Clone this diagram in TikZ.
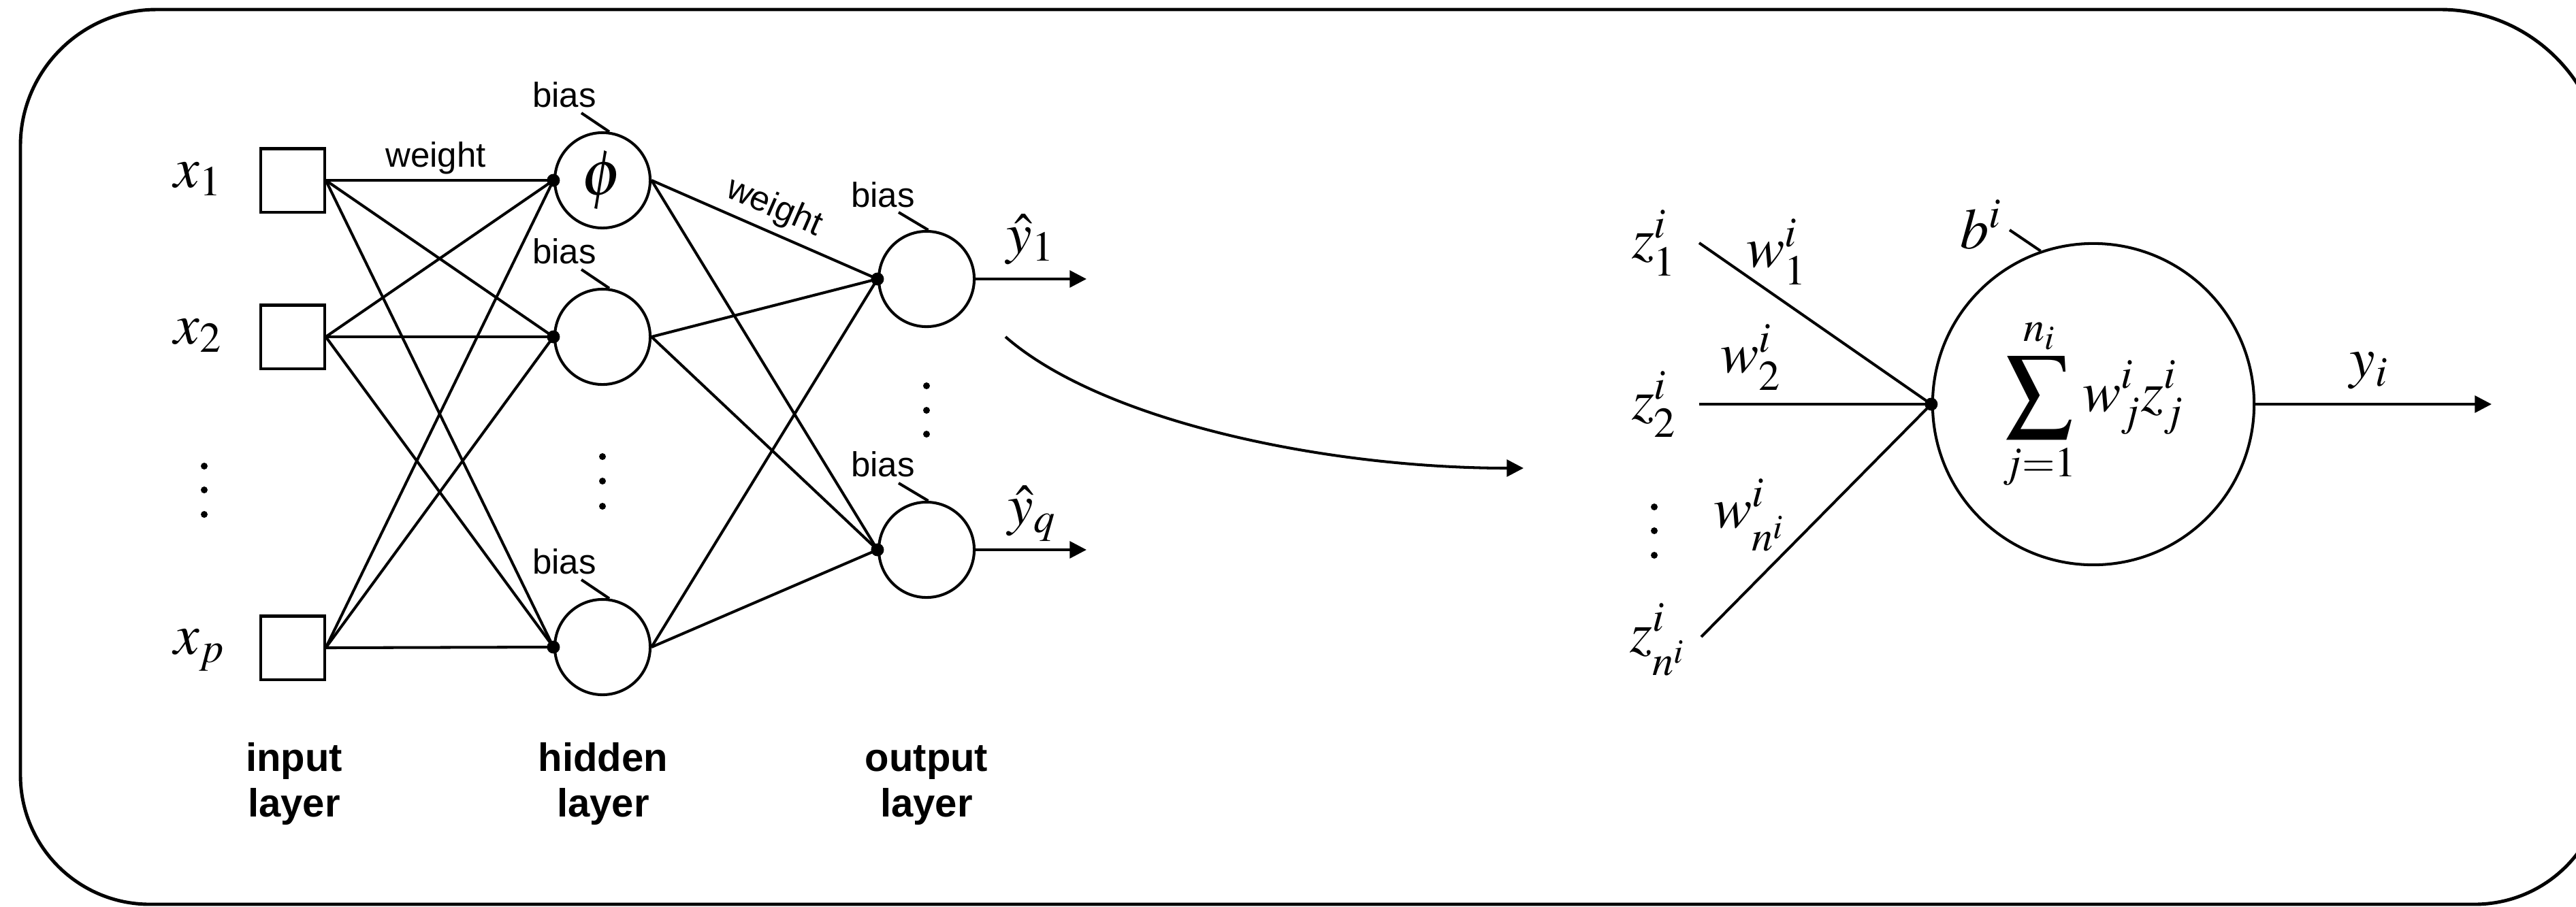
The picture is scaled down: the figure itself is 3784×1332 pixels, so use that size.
\documentclass[tikz,border=0pt]{standalone}
\usepackage{mathptmx}
\usepackage[no-math]{fontspec}
\newfontfamily\sansf{Liberation Sans}
\usetikzlibrary{arrows.meta}
% a slightly enlarged summation sign, centred on the math axis
\newcommand{\bigsum}{\mathop{\vcenter{\hbox{\scalebox{1.16}{$\displaystyle\sum$}}}}\limits}

\begin{document}
\begin{tikzpicture}[x=0.01cm, y=-0.01cm,
  ln/.style={line width=1.15pt},
  frame/.style={line width=1.4pt},
  inbox/.style={draw, ln, minimum size=0.93cm, inner sep=0pt},
  neuron/.style={draw, circle, ln, minimum size=1.40cm, inner sep=0pt,
                 font=\fontsize{27}{30}\selectfont},
  bigneuron/.style={draw, circle, ln, minimum size=4.72cm, inner sep=0pt,
                 font=\fontsize{24}{28}\selectfont},
  jdot/.style={fill, circle, inner sep=0pt, minimum size=0.19cm},
  vdot/.style={fill, circle, inner sep=0pt, minimum size=0.10cm},
  mlbl/.style={font=\fontsize{24}{28}\selectfont, inner sep=0pt},
  slbl/.style={font=\sansf\fontsize{14.5}{17}\selectfont, inner sep=0pt},
  layerlbl/.style={font=\sansf\bfseries\fontsize{16.5}{19}\selectfont,
                   align=center, inner sep=0pt, anchor=north},
  arr/.style={ln, -{Triangle[length=7pt, width=7pt]}}
]
\useasboundingbox (0,0) rectangle (3784,1332);

% outer frame with rounded corners
\draw[frame] (30,214) .. controls (30,104) and (120,14) .. (230,14)
  -- (3585,14) .. controls (3717,14) and (3825,122) .. (3825,254)
  -- (3825,1139) .. controls (3825,1244) and (3740,1329) .. (3635,1329)
  -- (220,1329) .. controls (115,1329) and (30,1244) .. (30,1139) -- cycle;

% ---------------- multilayer network ----------------
\node[inbox] (i1) at (430,265) {};
\node[inbox] (i2) at (430,495) {};
\node[inbox] (ip) at (430,952) {};

\node[neuron] (h1) at (885,265) {$\phi$};
\node[neuron] (h2) at (885,495) {};
\node[neuron] (hp) at (885,951) {};

\node[neuron] (o1) at (1361,410) {};
\node[neuron] (oq) at (1361,808) {};

% input labels
\node[mlbl, anchor=base west] (lx1) at (255,275) {$x_1$};
\node[mlbl, anchor=base west] (lx2) at (255,505) {$x_2$};
\node[mlbl, anchor=base west] (lxp) at (255,961) {$x_p$};

% input -> hidden
\foreach \a in {i1,i2,ip}{
  \foreach \b in {h1,h2,hp}{
    \draw[ln] (\a.east) -- (\b.west);
  }
}
% hidden -> output
\foreach \a in {h1,h2,hp}{
  \foreach \b in {o1,oq}{
    \draw[ln] (\a.east) -- (\b.west);
  }
}

% junction dots
\node[jdot] (jh1) at (h1.west) {};
\node[jdot] (jh2) at (h2.west) {};
\node[jdot] (jhp) at (hp.west) {};
\node[jdot] (jo1) at (o1.west) {};
\node[jdot] (joq) at (oq.west) {};

% weight labels
\node[slbl, anchor=base] (w1lbl) at (640,245) {weight};
\path (h1.east) -- (o1.west)
  node[slbl, midway, sloped, above, inner sep=3pt] (w2lbl) {weight};

% bias labels and ticks
\node[slbl, anchor=base] (bh1) at (829,157) {bias};
\node[slbl, anchor=base] (bh2) at (829,387) {bias};
\node[slbl, anchor=base] (bhp) at (829,843) {bias};
\node[slbl, anchor=base] (bo1) at (1297,304) {bias};
\node[slbl, anchor=base] (boq) at (1297,700) {bias};
\coordinate (th1) at (854,166);
\coordinate (th2) at (854,396);
\coordinate (thp) at (854,852);
\coordinate (to1) at (1320,312);
\coordinate (toq) at (1320,710);
\draw[ln] (th1) -- (h1.82);
\draw[ln] (th2) -- (h2.82);
\draw[ln] (thp) -- (hp.82);
\draw[ln] (to1) -- (o1.88);
\draw[ln] (toq) -- (oq.88);

% outputs
\coordinate (y1end) at (1596,410);
\coordinate (yqend) at (1596,808);
\draw[arr] (o1.east) -- (y1end);
\draw[arr] (oq.east) -- (yqend);
\node[mlbl, anchor=base west] (ly1) at (1478,371) {$\hat{y}_1$};
\node[mlbl, anchor=base west] (lyq) at (1480,770) {$\hat{y}_q$};

% ellipsis dots
\foreach \yy in {685,720,756} \node[vdot] at (300,\yy) {};
\foreach \yy in {671,707,744} \node[vdot] at (885,\yy) {};
\foreach \yy in {567,603,638} \node[vdot] at (1361,\yy) {};

% layer names
\node[layerlbl] (lin)  at (432,1091)  {input\\layer};
\node[layerlbl] (lhid) at (886,1091)  {hidden\\layer};
\node[layerlbl] (lout) at (1361,1091) {\vphantom{h}output\\layer};

% zoom-in arrow
\coordinate (cs) at (1477,495);
\coordinate (ce) at (2238,688);
\draw[arr] (cs) .. controls (1620,620) and (1950,688) .. (ce);

% ---------------- single neuron ----------------
\node[bigneuron] (sum) at (3075,594)
  {$\displaystyle\bigsum_{j=1}^{n_i} w_j^i z_j^i$};
\node[jdot] (jsum) at (sum.west) {};

\coordinate (z1s) at (2496,357);
\coordinate (z2s) at (2496,594);
\coordinate (zns) at (2499,936);
\draw[ln] (z1s) -- (sum.west);
\draw[ln] (z2s) -- (sum.west);
\draw[ln] (zns) -- (sum.west);

\node[mlbl] (lz1) at (2430,357) {$z_1^i$};
\node[mlbl] (lz2) at (2430,594) {$z_2^i$};
\node[mlbl] (lzn) at (2435,940) {$z_{n^i}^i$};
\foreach \yy in {745,780,816} \node[vdot] at (2430,\yy) {};

\node[mlbl] (lw1) at (2610,370) {$w_1^i$};
\node[mlbl] (lw2) at (2572,525) {$w_2^i$};
\node[mlbl] (lwn) at (2570,757) {$w_{n^i}^i$};

\node[mlbl] (lb) at (2910,330) {$b^i$};
\coordinate (tb) at (2952,338);
\draw[ln] (tb) -- (sum.109);

\coordinate (yiend) at (3660,594);
\draw[arr] (sum.east) -- (yiend);
\node[mlbl] (lyi) at (3480,545) {$y_i$};

\end{tikzpicture}
\end{document}
